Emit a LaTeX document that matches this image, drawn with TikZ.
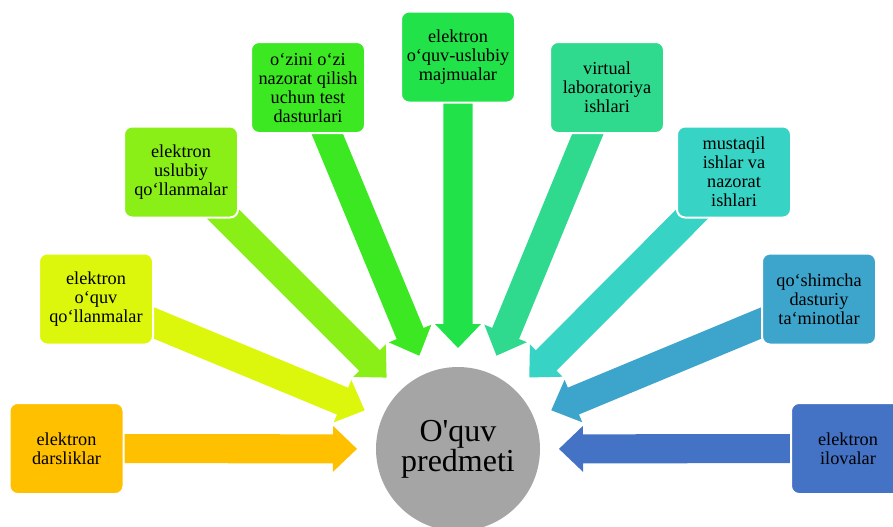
\documentclass[tikz,border=0pt]{standalone}
\usepackage{fontspec}
\setmainfont{Liberation Serif}
\usetikzlibrary{calc,backgrounds}

\definecolor{cA}{HTML}{FFC000}
\definecolor{cB}{HTML}{DCF70B}
\definecolor{cC}{HTML}{8AEF16}
\definecolor{cD}{HTML}{3CE822}
\definecolor{cE}{HTML}{22E24A}
\definecolor{cF}{HTML}{2FDA8E}
\definecolor{cG}{HTML}{37D3C5}
\definecolor{cH}{HTML}{3DA5CC}
\definecolor{cI}{HTML}{4472C4}
\definecolor{cPred}{HTML}{A5A5A5}

\tikzset{
  box/.style={rectangle, rounded corners=6pt, draw=white, line width=1.5pt,
    minimum width=85.5pt, minimum height=68.25pt, inner sep=1pt, align=center,
    font=\fontsize{13.7}{14.25}\selectfont},
  pred/.style={circle, fill=cPred, minimum size=123pt, inner sep=0pt, align=center,
    font=\fontsize{24}{22.5}\selectfont}
}

% block arrow from the centre of box #1 to the circle, colour #2
\newcommand{\feedarrow}[2]{%
  \coordinate (tip) at ($(pred.center)!75.75pt!(#1.center)$);
  \coordinate (hb) at ($(tip)!18pt!(#1.center)$);
  \fill[#2] (tip) -- ($(hb)!17.25pt!90:(tip)$) -- ($(hb)!10.9pt!90:(tip)$)
    -- ($(#1.center)!10.9pt!90:(tip)$) -- ($(#1.center)!10.9pt!-90:(tip)$)
    -- ($(hb)!10.9pt!-90:(tip)$) -- ($(hb)!17.25pt!-90:(tip)$) -- cycle;%
}

\begin{document}
\begin{tikzpicture}[x=0.75pt,y=0.75pt,yscale=-1,xscale=1]
    \useasboundingbox (0,0) rectangle (893,526);

    %Shape: Circle
    \node (pred) at (458,449) [pred] {O\textquotesingle quv\\predmeti};

    % Text Node
    \node (b1) at (66.5,448.5) [box, fill=cA] {elektron\\darsliklar};
    % Text Node
    \node (b2) at (96,299) [box, fill=cB] {elektron\\o‘quv\\qo‘llanmalar};
    % Text Node
    \node (b3) at (181,172) [box, fill=cC] {elektron\\uslubiy\\qo‘llanmalar};
    % Text Node
    \node (b4) at (308,87.5) [box, fill=cD] {o‘zini o‘zi\\nazorat qilish\\uchun test\\dasturlari};
    % Text Node
    \node (b5) at (458,57) [box, fill=cE] {elektron\\o‘quv-uslubiy\\majmualar};
    % Text Node
    \node (b6) at (607,87.5) [box, fill=cF] {virtual\\laboratoriya\\ishlari};
    % Text Node
    \node (b7) at (734,172) [box, fill=cG] {mustaqil\\ishlar va\\nazorat\\ishlari};
    % Text Node
    \node (b8) at (819,299) [box, fill=cH] {qo‘shimcha\\dasturiy\\ta‘minotlar};
    % Text Node
    \node (b9) at (848,448.5) [box, fill=cI] {elektron\\ilovalar};

    %Block Arrows
    \begin{pgfonlayer}{background}
      \feedarrow{b1}{cA}
      \feedarrow{b2}{cB}
      \feedarrow{b3}{cC}
      \feedarrow{b4}{cD}
      \feedarrow{b5}{cE}
      \feedarrow{b6}{cF}
      \feedarrow{b7}{cG}
      \feedarrow{b8}{cH}
      \feedarrow{b9}{cI}
    \end{pgfonlayer}

\end{tikzpicture}
\end{document}
